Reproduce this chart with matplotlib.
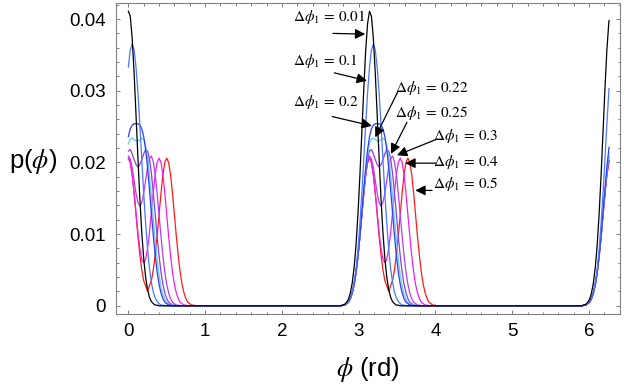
import numpy as np
import matplotlib
matplotlib.use("Agg")
import matplotlib.pyplot as plt
from matplotlib.ticker import MultipleLocator, FuncFormatter

plt.rcParams["font.family"] = ["Liberation Sans", "DejaVu Sans"]
plt.rcParams["mathtext.fontset"] = "stix"

# one period of p(phi), read at offsets from each peak centre (0, pi, 2pi)
# offsets -0.4 ... 0.9 rd, step 0.025 ; values in units of 1e-3
offsets = np.linspace(-0.4, 0.9, 53)
N_PHI = 300  # sampled points over [0, 2pi)

delta_labels = ["0.01", "0.1", "0.2", "0.22", "0.25", "0.3", "0.4", "0.5"]
colors = ["#000000", "#4a78ff", "#2f3fe8", "#66ccf5", "#8a3fe0", "#b040f5", "#f020e8", "#ff1a1a"]

p_001 = [0.0, 0.0, 0.1, 0.2, 0.5, 0.9, 1.8, 3.2, 5.4, 8.6, 12.9, 18.2, 24.2, 30.2, 35.6, 39.4,
         41.1, 40.4, 37.3, 32.5, 26.6, 20.6, 14.9, 10.2, 6.6, 4.0, 2.3, 1.2, 0.6, 0.3, 0.1, 0.1,
         0.0] + [0.0] * 20
p_01 = [0.0, 0.0, 0.1, 0.1, 0.3, 0.6, 1.1, 1.9, 3.3, 5.2, 8.0, 11.5, 15.7, 20.4, 25.2, 29.7,
        33.3, 35.7, 36.5, 35.7, 33.3, 29.7, 25.2, 20.4, 15.7, 11.5, 8.0, 5.2, 3.3, 1.9, 1.1, 0.6,
        0.3, 0.1, 0.1, 0.0, 0.0] + [0.0] * 16
p_02 = [0.0, 0.0, 0.1, 0.1, 0.3, 0.5, 1.0, 1.8, 3.0, 4.7, 7.0, 9.8, 13.0, 16.2, 19.3, 21.8,
        23.6, 24.7, 25.2, 25.4, 25.4, 25.4, 25.2, 24.7, 23.6, 21.8, 19.3, 16.2, 13.0, 9.8, 7.0, 4.7,
        3.0, 1.8, 1.0, 0.5, 0.3, 0.1, 0.1, 0.0, 0.0] + [0.0] * 12
p_022 = [0.0, 0.0, 0.1, 0.1, 0.3, 0.5, 1.0, 1.8, 3.0, 4.7, 7.0, 9.8, 12.9, 16.0, 18.9, 21.1,
         22.6, 23.3, 23.4, 23.2, 23.0, 23.0, 23.2, 23.4, 23.2, 22.4, 20.7, 18.3, 15.4, 12.2, 9.2, 6.5,
         4.3, 2.7, 1.6, 0.9, 0.5, 0.2, 0.1, 0.1, 0.0, 0.0] + [0.0] * 11
p_025 = [0.0, 0.0, 0.1, 0.1, 0.3, 0.5, 1.0, 1.8, 3.0, 4.7, 7.0, 9.7, 12.8, 15.8, 18.5, 20.5,
         21.6, 21.8, 21.2, 20.4, 19.7, 19.4, 19.7, 20.4, 21.2, 21.8, 21.6, 20.5, 18.5, 15.8, 12.8, 9.7,
         7.0, 4.7, 3.0, 1.8, 1.0, 0.5, 0.3, 0.1, 0.1, 0.0, 0.0] + [0.0] * 10
p_03 = [0.0, 0.0, 0.1, 0.1, 0.3, 0.5, 1.0, 1.8, 3.0, 4.7, 7.0, 9.7, 12.7, 15.7, 18.3, 20.1,
        20.9, 20.5, 19.3, 17.5, 15.7, 14.4, 13.9, 14.4, 15.7, 17.5, 19.3, 20.5, 20.9, 20.1, 18.3, 15.7,
        12.7, 9.7, 7.0, 4.7, 3.0, 1.8, 1.0, 0.5, 0.3, 0.1, 0.1, 0.0, 0.0] + [0.0] * 8
p_04 = [0.0, 0.0, 0.1, 0.1, 0.3, 0.5, 1.0, 1.8, 3.0, 4.7, 7.0, 9.7, 12.7, 15.7, 18.3, 20.0,
        20.6, 20.0, 18.3, 15.8, 13.0, 10.2, 8.0, 6.5, 6.0, 6.5, 8.0, 10.2, 13.0, 15.8, 18.3, 20.0,
        20.6, 20.0, 18.3, 15.7, 12.7, 9.7, 7.0, 4.7, 3.0, 1.8, 1.0, 0.5, 0.3, 0.1, 0.1, 0.0,
        0.0] + [0.0] * 4
p_05 = [0.0, 0.0, 0.1, 0.1, 0.3, 0.5, 1.0, 1.8, 3.0, 4.7, 7.0, 9.7, 12.7, 15.7, 18.3, 20.0,
        20.6, 20.0, 18.3, 15.7, 12.7, 9.7, 7.1, 5.0, 3.5, 2.8, 2.0, 2.8, 3.5, 5.0, 7.1, 9.7,
        12.7, 15.7, 18.3, 20.0, 20.6, 20.0, 18.3, 15.7, 12.7, 9.7, 7.0, 4.7, 3.0, 1.8, 1.0, 0.5,
        0.3, 0.1, 0.1, 0.0, 0.0]
profiles = [p_001, p_01, p_02, p_022, p_025, p_03, p_04, p_05]

# value at the last sample phi = 2pi*299/300
end_vals = [39.8, 30.3, 22.1, 21.4, 20.8, 20.3, 20.2, 20.2]

# annotations: (text x, text y), (arrow tail), (arrow head) in data units
label_pos = [(2.145, 0.0403), (2.145, 0.0341), (2.145, 0.0284), (3.477, 0.0304),
             (3.477, 0.0269), (3.972, 0.0237), (3.972, 0.0201), (3.972, 0.0170)]
arrow_tail = [(2.665, 0.0380), (2.682, 0.0325), (2.656, 0.0264), (3.512, 0.0299),
              (3.630, 0.0256), (4.008, 0.0232), (4.008, 0.0199), (3.956, 0.0161)]
arrow_head = [(3.086, 0.0379), (3.108, 0.0314), (3.173, 0.0251), (3.216, 0.0235),
              (3.421, 0.0212), (3.499, 0.0210), (3.608, 0.0199), (3.738, 0.0161)]


def full_curve(prof, end_val):
    prof = np.asarray(prof) * 1e-3
    phi_end = 2 * np.pi * (N_PHI - 1) / N_PHI
    xs, ys = [], []
    for c in (0.0, np.pi, 2 * np.pi):
        x = c + offsets
        keep = (x >= -1e-9) & (x <= phi_end)
        xs.append(x[keep])
        ys.append(prof[keep])
    xs.append([phi_end])
    ys.append([end_val * 1e-3])
    return np.concatenate(xs), np.concatenate(ys)


fig = plt.figure(figsize=(6.24, 3.87), dpi=100)
ax = fig.add_axes([0.186, 0.189, 0.808, 0.8036])

for prof, ev, col in reversed(list(zip(profiles, end_vals, colors))):
    x, y = full_curve(prof, ev)
    ax.plot(x, y, color=col, lw=0.9)

for lab, tp, tail, head in zip(delta_labels, label_pos, arrow_tail, arrow_head):
    ax.text(tp[0], tp[1], r"$\Delta\phi_1\,=\,%s$" % lab, fontsize=11, ha="left", va="center")
    ax.annotate("", xy=head, xytext=tail,
                arrowprops=dict(arrowstyle="-|>", color="black", lw=0.9,
                                mutation_scale=15, shrinkA=0, shrinkB=0))

ax.set_xlim(-0.16, 6.408)
ax.set_ylim(-0.00112, 0.04226)
ax.xaxis.set_major_locator(MultipleLocator(1))
ax.xaxis.set_minor_locator(MultipleLocator(0.2))
ax.yaxis.set_major_locator(MultipleLocator(0.01))
ax.yaxis.set_minor_locator(MultipleLocator(0.002))
ax.yaxis.set_major_formatter(FuncFormatter(lambda v, p: "0" if abs(v) < 1e-9 else "%.2f" % v))
ax.xaxis.set_major_formatter(FuncFormatter(lambda v, p: "%d" % round(v)))

for s in ax.spines.values():
    s.set_color("#808080")
    s.set_linewidth(0.8)
ax.tick_params(which="both", direction="in", top=True, right=True, color="#808080", width=0.7)
ax.tick_params(which="major", length=3.2, labelsize=13.5)
ax.tick_params(axis="x", which="major", pad=6.5)
ax.tick_params(axis="y", which="major", pad=7.5)
ax.tick_params(which="minor", length=1.8)

fig.text(33 / 624, 1 - 161 / 387, r"p($\phi$)", fontsize=18.5, ha="center", va="center")
fig.text(368 / 624, 1 - 369 / 387, r"$\phi$ (rd)", fontsize=18.5, ha="center", va="center")

fig.savefig("out.png", dpi=100)
